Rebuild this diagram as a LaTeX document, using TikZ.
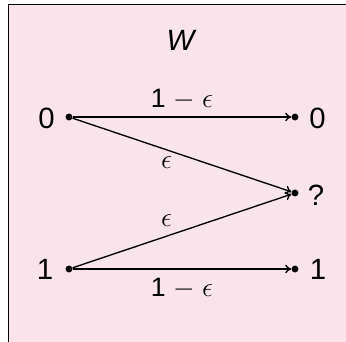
\documentclass[tikz,border=0pt]{standalone}
\usepackage{fontspec}
\setmainfont{Liberation Sans}
\usetikzlibrary{arrows.meta}
\definecolor{boxpink}{RGB}{249,228,235}
\begin{document}
\begin{tikzpicture}[x=0.75pt,y=-0.75pt,
  dot/.style={circle,fill=black,inner sep=0pt,minimum size=5.2pt},
  lbl/.style={font=\fontsize{22}{26}\selectfont,inner sep=0pt},
  elbl/.style={font=\fontsize{20}{24}\selectfont,inner sep=0pt},
  conn/.style={line width=1pt,-{To[length=4.5pt,width=6.5pt]}}]
\useasboundingbox (0,0) rectangle (346,342);
\begin{scope}
\clip (0,0) rectangle (346,342);
\fill[boxpink] (8.5,4.5) rectangle (360,360);
\draw[line width=1.3pt] (8.5,360) -- (8.5,4.5) -- (360,4.5);
\end{scope}
\node[lbl] (w) at (181.5,40) {\textit{W}};
\node[dot] (a0) at (69,117) {};
\node[dot] (a1) at (69,269) {};
\node[dot] (b0) at (295,117) {};
\node[dot] (be) at (295,193) {};
\node[dot] (b1) at (295,269) {};
\node[lbl] (la0) at (46.5,118) {0};
\node[lbl] (la1) at (45,269.5) {1};
\node[lbl] (lb0) at (317.5,118) {0};
\node[lbl] (lbe) at (316,195) {?};
\node[lbl] (lb1) at (318,269.5) {1};
\draw[conn] (a0) -- (b0);
\draw[conn] (a0) -- (be);
\draw[conn] (a1) -- (be);
\draw[conn] (a1) -- (b1);
\node[elbl] (t0) at (182,99) {1 $-$ $\epsilon$};
\node[elbl] (t1) at (182,288) {1 $-$ $\epsilon$};
\node[elbl] (e0) at (166.5,162.5) {$\epsilon$};
\node[elbl] (e1) at (166.5,221) {$\epsilon$};
\end{tikzpicture}
\end{document}
